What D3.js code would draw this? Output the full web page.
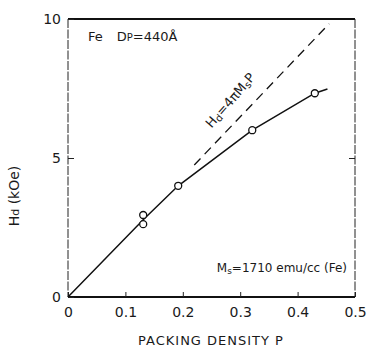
<!DOCTYPE html>
<html>
<head>
<meta charset="utf-8">
<script src="https://cdn.jsdelivr.net/npm/d3@7"></script>
<style>
  body { margin: 0; background: #fff; }
  text { font-family: "DejaVu Sans", sans-serif; fill: #1a1a1a; }
</style>
</head>
<body>
<div id="chart"></div>
<script>
// measured points (packing density P, Hd in kOe)
const pointP = [0.131, 0.131, 0.192, 0.321, 0.43];
const pointH = [2.62, 2.95, 4.0, 6.0, 7.33];

// solid curve through the data
const curveP = [0, 0.131, 0.192, 0.321, 0.43, 0.452];
const curveH = [0, 2.78, 4.0, 6.0, 7.33, 7.48];

// Hd = 4 pi Ms P reference (dashed)
const idealP = [0.22, 0.455];
const idealH = [4.75, 9.83];

const xTicks = [0, 0.1, 0.2, 0.3, 0.4, 0.5];
const xTickLabels = ["0", "0.1", "0.2", "0.3", "0.4", "0.5"];
const yTicks = [0, 5, 10];
const yTickLabels = ["0", "5", "10"];

const W = 370, H = 354;
const margin = { top: 19, right: 15, bottom: 57, left: 68 };
const width = W - margin.left - margin.right;
const height = H - margin.top - margin.bottom;

const svg = d3.select("#chart")
    .append("svg")
    .attr("width", W)
    .attr("height", H);

const g = svg.append("g")
    .attr("transform", `translate(${margin.left},${margin.top})`);

const x = d3.scaleLinear().domain([0, 0.5]).range([0, width]);
const y = d3.scaleLinear().domain([0, 10]).range([height, 0]);

// frame: top and bottom heavier, sides thin
g.append("line").attr("x1", 0).attr("x2", width).attr("y1", 0).attr("y2", 0)
    .attr("stroke", "#111").attr("stroke-width", 2);
g.append("line").attr("x1", 0).attr("x2", width).attr("y1", height).attr("y2", height)
    .attr("stroke", "#111").attr("stroke-width", 2);
g.append("line").attr("x1", 0).attr("x2", 0).attr("y1", 0).attr("y2", height)
    .attr("stroke", "#222").attr("stroke-width", 1).attr("stroke-dasharray", "9,1.5");
g.append("line").attr("x1", width).attr("x2", width).attr("y1", 0).attr("y2", height)
    .attr("stroke", "#222").attr("stroke-width", 1).attr("stroke-dasharray", "9,1.5");

// inward ticks
const xAxis = g.append("g")
    .attr("transform", `translate(0,${height})`)
    .call(d3.axisBottom(x).tickValues(xTicks).tickSizeInner(-5).tickSizeOuter(0)
        .tickPadding(10).tickFormat((d, i) => xTickLabels[i]));
xAxis.select(".domain").remove();
xAxis.selectAll(".tick line").attr("stroke", "#222");
xAxis.selectAll("text").style("font-size", "14px").attr("fill", "#1a1a1a")
    .style("font-family", "DejaVu Sans, sans-serif");

const yAxis = g.append("g")
    .call(d3.axisLeft(y).tickValues(yTicks).tickSizeInner(-6).tickSizeOuter(0)
        .tickPadding(7).tickFormat((d, i) => yTickLabels[i]));
yAxis.select(".domain").remove();
yAxis.selectAll(".tick line").attr("stroke", "#222");
yAxis.selectAll("text").style("font-size", "14px").attr("fill", "#1a1a1a")
    .style("font-family", "DejaVu Sans, sans-serif");

// right side tick at 5
g.append("g")
    .attr("transform", `translate(${width},0)`)
    .call(d3.axisRight(y).tickValues([5]).tickSizeInner(-6).tickSizeOuter(0).tickFormat(""))
    .call(a => a.select(".domain").remove())
    .selectAll(".tick line").attr("stroke", "#222");

// dashed ideal line
g.append("line")
    .attr("x1", x(idealP[0])).attr("y1", y(idealH[0]))
    .attr("x2", x(idealP[1])).attr("y2", y(idealH[1]))
    .attr("stroke", "#111").attr("stroke-width", 1.3)
    .attr("stroke-dasharray", "9,6");

// solid curve
const line = d3.line().x(d => x(d[0])).y(d => y(d[1]));
g.append("path")
    .datum(curveP.map((p, i) => [p, curveH[i]]))
    .attr("d", line)
    .attr("fill", "none")
    .attr("stroke", "#111")
    .attr("stroke-width", 1.5);

// open circle markers
g.selectAll("circle.pt")
    .data(pointP.map((p, i) => [p, pointH[i]]))
    .enter()
    .append("circle")
    .attr("class", "pt")
    .attr("cx", d => x(d[0]))
    .attr("cy", d => y(d[1]))
    .attr("r", 3.5)
    .attr("fill", "#fff")
    .attr("stroke", "#111")
    .attr("stroke-width", 1.3);

// annotations
const t1 = g.append("text").attr("x", 20).attr("y", 22).style("font-size", "13px");
t1.append("tspan").text("Fe");
t1.append("tspan").attr("dx", 14).text("D");
t1.append("tspan").style("font-size", "10px").text("P");
t1.append("tspan").text("=440Å");

const t2 = g.append("text")
    .attr("transform", `translate(${x(0.25)},${y(6.05)}) rotate(-49)`)
    .style("font-size", "13px");
t2.append("tspan").text("H");
t2.append("tspan").style("font-size", "10px").attr("dy", 2).text("d");
t2.append("tspan").attr("dy", -2).text("=4πM");
t2.append("tspan").style("font-size", "10px").attr("dy", 2).text("s");
t2.append("tspan").attr("dy", -2).text("P");

const t3 = g.append("text").attr("x", width - 8).attr("y", y(0.9))
    .attr("text-anchor", "end").style("font-size", "12px");
t3.append("tspan").text("M");
t3.append("tspan").style("font-size", "9px").attr("dy", 2).text("s");
t3.append("tspan").attr("dy", -2).text("=1710 emu/cc (Fe)");

// axis titles
const yl = svg.append("text")
    .attr("transform", `translate(19,196) rotate(-90)`)
    .attr("text-anchor", "middle")
    .style("font-size", "14px");
yl.append("tspan").text("H");
yl.append("tspan").style("font-size", "11px").text("d");
yl.append("tspan").text(" (kOe)");

svg.append("text")
    .attr("x", 211).attr("y", 345)
    .attr("text-anchor", "middle")
    .style("font-size", "13px")
    .style("letter-spacing", "1px")
    .text("PACKING DENSITY P");
</script>
</body>
</html>
